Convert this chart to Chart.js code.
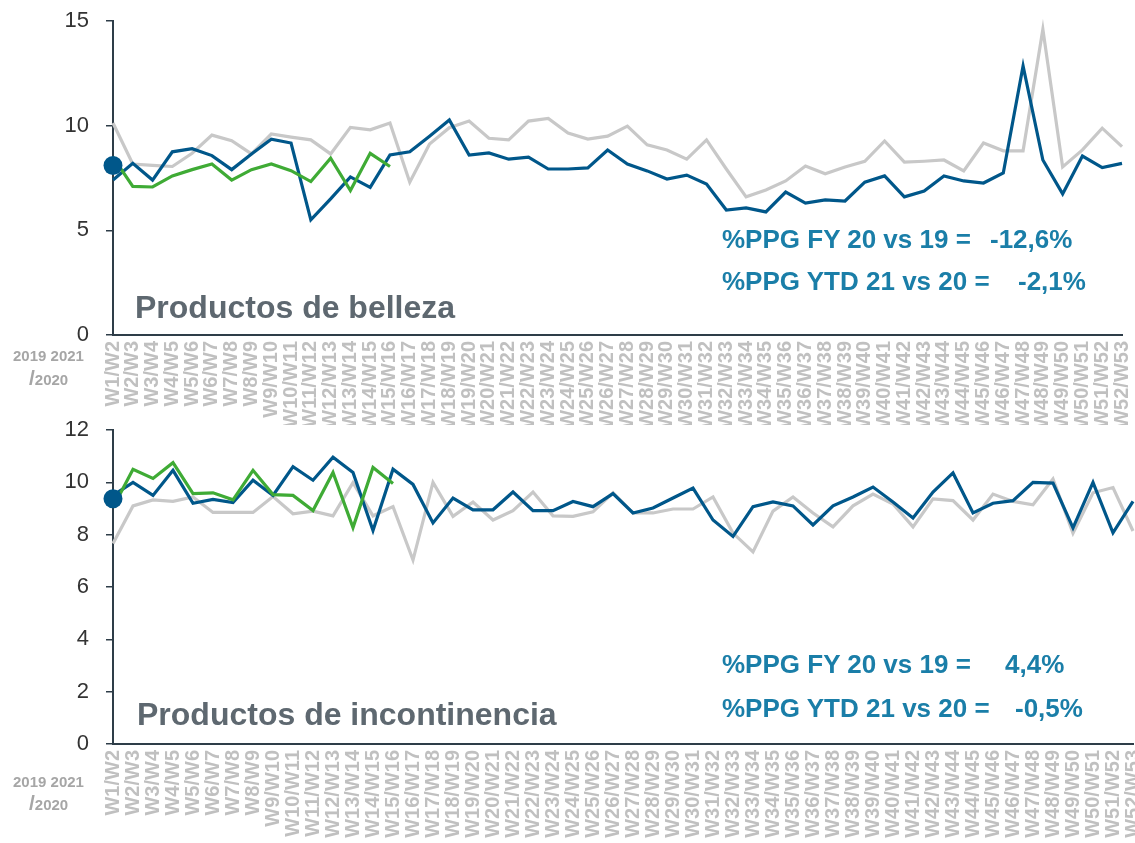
<!DOCTYPE html>
<html>
<head>
<meta charset="utf-8">
<script src="https://cdn.jsdelivr.net/npm/chart.js@4.4.1/dist/chart.umd.min.js"></script>
<style>
  html, body { margin: 0; padding: 0; background: #fff; overflow: hidden; width: 1135px; height: 843px; }
  #wrap { position: relative; width: 1135px; height: 843px; overflow: hidden; font-family: "Liberation Sans", Arial, sans-serif; }
  canvas { position: absolute; left: 0; }
  .title { position: absolute; font-weight: bold; font-size: 32px; line-height: 32px; color: #5e6870; white-space: nowrap; }
  .ppg { position: absolute; font-weight: bold; font-size: 26px; line-height: 26px; color: #1a7ea8; white-space: nowrap; }
  .years { position: absolute; font-weight: bold; font-size: 15px; line-height: 15px; color: #a6a6a6; white-space: nowrap; }
  .years .slash { font-size: 21px; }
</style>
</head>
<body>
<div id="wrap">
  <canvas id="chartBelleza" width="1152" height="434" style="top:-9px"></canvas>
  <canvas id="chartIncont" width="1163" height="443" style="top:400px"></canvas>

  <div class="title" style="left:135px; top:291px">Productos de belleza</div>
  <div class="ppg" style="left:722px; top:226px">%PPG FY 20 vs 19 =</div>
  <div class="ppg" style="left:990px; top:226px">-12,6%</div>
  <div class="ppg" style="left:722px; top:268px">%PPG YTD 21 vs 20 =</div>
  <div class="ppg" style="left:1018px; top:268px">-2,1%</div>
  <div class="years" style="left:13px; top:348px">2019 2021</div>
  <div class="years" style="left:29px; top:370px"><span class="slash">/</span>2020</div>

  <div class="title" style="left:137px; top:698px">Productos de incontinencia</div>
  <div class="ppg" style="left:722px; top:651px">%PPG FY 20 vs 19 =</div>
  <div class="ppg" style="left:1005px; top:651px">4,4%</div>
  <div class="ppg" style="left:722px; top:695px">%PPG YTD 21 vs 20 =</div>
  <div class="ppg" style="left:1015px; top:695px">-0,5%</div>
  <div class="years" style="left:13px; top:774px">2019 2021</div>
  <div class="years" style="left:29px; top:795px"><span class="slash">/</span>2020</div>
</div>

<script>
var weeks = ["W1/W2", "W2/W3", "W3/W4", "W4/W5", "W5/W6", "W6/W7", "W7/W8", "W8/W9", "W9/W10", "W10/W11",
  "W11/W12", "W12/W13", "W13/W14", "W14/W15", "W15/W16", "W16/W17", "W17/W18", "W18/W19", "W19/W20", "W20/W21",
  "W21/W22", "W22/W23", "W23/W24", "W24/W25", "W25/W26", "W26/W27", "W27/W28", "W28/W29", "W29/W30", "W30/W31",
  "W31/W32", "W32/W33", "W33/W34", "W34/W35", "W35/W36", "W36/W37", "W37/W38", "W38/W39", "W39/W40", "W40/W41",
  "W41/W42", "W42/W43", "W43/W44", "W44/W45", "W45/W46", "W46/W47", "W47/W48", "W48/W49", "W49/W50", "W50/W51",
  "W51/W52", "W52/W53"];

// Productos de belleza
var belleza2019 = [10.13, 8.17, 8.1, 8.05, 8.68, 9.55, 9.28, 8.65, 9.6, 9.45,
  9.32, 8.65, 9.92, 9.8, 10.13, 7.3, 9.12, 9.9, 10.22, 9.4,
  9.32, 10.22, 10.35, 9.65, 9.36, 9.5, 9.98, 9.08, 8.84, 8.4,
  9.32, 7.93, 6.6, 6.93, 7.36, 8.07, 7.7, 8.03, 8.3, 9.27,
  8.26, 8.3, 8.36, 7.84, 9.17, 8.8, 8.8, 14.6, 8.03, 8.84,
  9.88, 9.0];
var belleza2020 = [7.4, 8.2, 7.4, 8.75, 8.9, 8.57, 7.9, 8.65, 9.35, 9.17,
  5.5, 6.5, 7.55, 7.05, 8.6, 8.75, 9.5, 10.27, 8.6, 8.7,
  8.4, 8.5, 7.93, 7.93, 7.98, 8.84, 8.17, 7.84, 7.45, 7.64,
  7.21, 5.97, 6.07, 5.88, 6.83, 6.3, 6.45, 6.4, 7.3, 7.6,
  6.6, 6.88, 7.6, 7.36, 7.26, 7.74, 12.85, 8.36, 6.74, 8.55,
  8.0, 8.2];
var belleza2021 = [8.5, 7.1, 7.07, 7.6, 7.9, 8.17, 7.4, 7.9, 8.17, 7.85, 7.33, 8.45, 6.9, 8.68, 8.05];
var bellezaDot = [8.1];

// Productos de incontinencia
var incont2019 = [7.66, 9.1, 9.33, 9.27, 9.44, 8.85, 8.85, 8.85, 9.46, 8.8,
  8.9, 8.72, 9.99, 8.72, 9.07, 7.03, 10.0, 8.7, 9.25, 8.56,
  8.92, 9.63, 8.72, 8.7, 8.87, 9.6, 8.83, 8.83, 8.98, 8.98,
  9.44, 8.06, 7.34, 8.9, 9.44, 8.83, 8.3, 9.1, 9.55, 9.17,
  8.3, 9.37, 9.3, 8.56, 9.55, 9.27, 9.14, 10.13, 8.06, 9.6,
  9.8, 8.14];
var incont2020 = [9.5, 10.0, 9.5, 10.46, 9.2, 9.35, 9.23, 10.08, 9.5, 10.6,
  10.08, 10.96, 10.38, 8.16, 10.5, 9.92, 8.45, 9.4, 8.95, 8.95,
  9.63, 8.92, 8.92, 9.27, 9.07, 9.57, 8.83, 9.02, 9.4, 9.78,
  8.56, 7.93, 9.07, 9.25, 9.1, 8.37, 9.1, 9.44, 9.82, 9.25,
  8.64, 9.63, 10.36, 8.83, 9.2, 9.3, 10.0, 9.97, 8.26, 10.0,
  8.07, 9.27];
var incont2021 = [9.04, 10.5, 10.15, 10.75, 9.57, 9.6, 9.33, 10.46, 9.53, 9.5, 8.92, 10.38, 8.27, 10.57, 9.96];
var incontDot = [9.37];

var colors = {
  blue: "#00578a",
  green: "#3fab35",
  gray: "#c8c8c8",
  axis: "#2e3d48",
  tick: "#333333",
  week: "#c0c0c0"
};

function newChart(canvasId, yMax, yStep, xHeight, gray, blue, green, dot) {
  var canvas = document.getElementById(canvasId);
  var data = {
    labels: weeks,
    datasets: [
      {
        data: dot,
        showLine: false,
        pointRadius: 9.5,
        pointBackgroundColor: colors.blue,
        pointBorderWidth: 0,
        clip: false,
      },
      {
        data: green,
        borderColor: colors.green,
        borderWidth: 3.2,
        pointRadius: 0,
        tension: 0,
      },
      {
        data: blue,
        borderColor: colors.blue,
        borderWidth: 3.2,
        pointRadius: 0,
        tension: 0,
        clip: false,
      },
      {
        data: gray,
        borderColor: colors.gray,
        borderWidth: 3.2,
        pointRadius: 0,
        tension: 0,
        clip: false,
      },
    ]
  };

  var options = {
    responsive: false,
    animation: false,
    events: [],
    // top and right padding are larger than the axis label overflow, so they set the plot edges
    layout: { padding: { left: 0, top: 30, right: 30, bottom: 0 } },
    plugins: {
      legend: { display: false },
      tooltip: { enabled: false },
    },
    scales: {
      x: {
        offset: false,
        grid: { display: false, drawTicks: false },
        border: { display: true, color: colors.axis, width: 2 },
        ticks: {
          autoSkip: false,
          minRotation: 90,
          maxRotation: 90,
          padding: 6,
          color: colors.week,
          font: { family: "Liberation Sans", size: 20, weight: "bold", lineHeight: 1 },
        },
        afterFit: function (scale) { scale.height = xHeight; },
      },
      y: {
        min: 0,
        max: yMax,
        grid: { drawOnChartArea: false, drawTicks: true, tickLength: 7, color: colors.axis, lineWidth: 1.5 },
        border: { display: true, color: colors.axis, width: 2 },
        ticks: {
          stepSize: yStep,
          padding: 17,
          color: colors.tick,
          font: { family: "Liberation Sans", size: 22, lineHeight: 1 },
        },
        afterFit: function (scale) { scale.width = 113; },
      },
    }
  };

  return new Chart(canvas, {
    type: "line",
    data: data,
    options: options,
  });
}

newChart("chartBelleza", 15, 5, 90, belleza2019, belleza2020, belleza2021, bellezaDot);
newChart("chartIncont", 12, 2, 99, incont2019, incont2020, incont2021, incontDot);
</script>
</body>
</html>
